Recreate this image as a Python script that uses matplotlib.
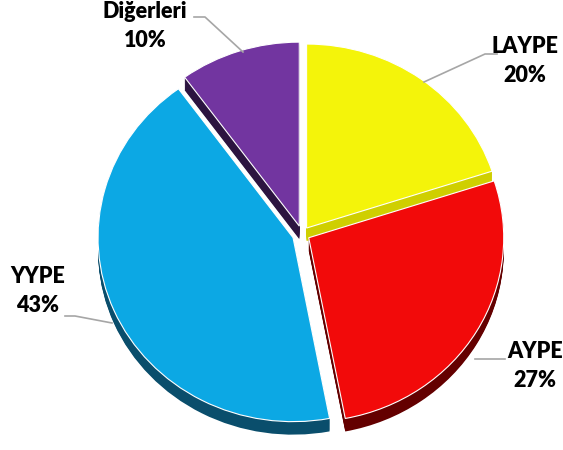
import matplotlib
matplotlib.use("Agg")
import matplotlib.pyplot as plt

labels = ["LAYPE", "AYPE", "YYPE", "Diğerleri"]
shares = [20, 27, 43, 10]
top_colors = ["#F4F40A", "#F20A0A", "#0CA8E4", "#7235A0"]
side_colors = ["#CFCF00", "#640000", "#0A4E6C", "#2C1440"]
explode = [0.04, 0.04, 0.05, 0.045]

W, H = 563, 450
CX, CY = 302, 234      # pie centre in pixels
SX, SY = 195, 184      # pixels per data unit
DEPTH = 13 / SY


def px(x, y):
    # pixel position (from top-left) -> data coords
    return (x - CX) / SX, (CY - y) / SY


fig = plt.figure(figsize=(W / 100, H / 100), dpi=100)
ax = fig.add_axes([0, 0, 1, 1])

# side walls: stack of darker pies shifted downward
n = 14
for i in range(n, 0, -1):
    ax.pie(shares, colors=side_colors, explode=explode, startangle=90,
           counterclock=False, center=(0, -DEPTH * i / n),
           wedgeprops=dict(linewidth=0))

# top surface
ax.pie(shares, colors=top_colors, explode=explode, startangle=90,
       counterclock=False, wedgeprops=dict(edgecolor="white", linewidth=0.8))

ax.set_aspect("auto")
ax.set_xlim((0 - CX) / SX, (W - CX) / SX)
ax.set_ylim((CY - H) / SY, CY / SY)
ax.axis("off")

# labels and leader lines (pixel positions)
label_pos = {
    "Diğerleri": (145, 26),
    "LAYPE": (525, 61),
    "AYPE": (535, 366),
    "YYPE": (38, 291),
}
leaders = {
    "Diğerleri": [(194, 17), (205, 17), (243, 52)],
    "LAYPE": [(424, 82), (485, 54), (497, 54)],
    "AYPE": [(475, 359), (505, 359)],
    "YYPE": [(65, 316), (75, 316), (112, 323)],
}

for name, share in zip(labels, shares):
    x, y = px(*label_pos[name])
    ax.text(x, y, f"{name}\n{share}%", ha="center", va="center",
            fontsize=15.5, fontweight="heavy", family="Lato",
            linespacing=1.5, color="black")
    pts = [px(a, b) for a, b in leaders[name]]
    ax.plot([p[0] for p in pts], [p[1] for p in pts], color="#A6A6A6", lw=1.2)

fig.savefig("out.png", dpi=100)
